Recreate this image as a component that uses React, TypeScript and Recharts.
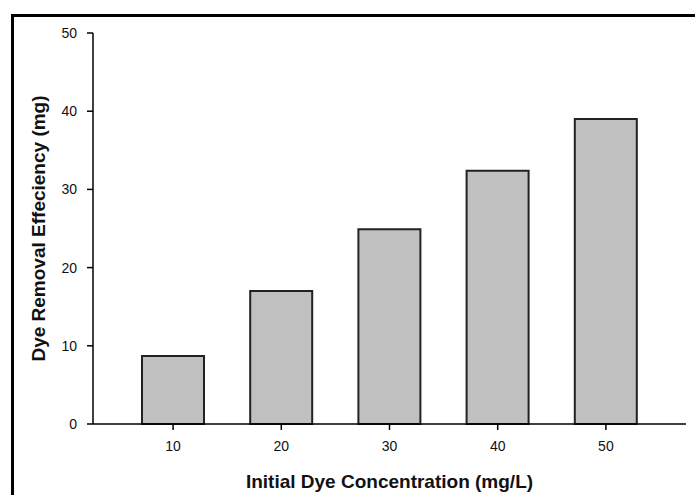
import { Bar, BarChart, XAxis, YAxis, Label } from "recharts";

const concentrations = ["10", "20", "30", "40", "50"];
const removal = [8.7, 17.0, 24.9, 32.4, 39.0];
const yTicks = [0, 10, 20, 30, 40, 50];

const data = concentrations.map((c, i) => ({ conc: c, removal: removal[i] }));

const FONT = '"Liberation Sans", Arial, sans-serif';

/** Rotated y-axis title centred on the plot height. */
function YTitle(props: { viewBox?: { x?: number; y?: number; width?: number; height?: number } }) {
  const { y = 0, height = 0 } = props.viewBox ?? {};
  const cx = 38;
  const cy = y + height / 2;
  return (
    <text
      x={cx}
      y={cy}
      transform={`rotate(-90, ${cx}, ${cy})`}
      textAnchor="middle"
      dominantBaseline="central"
      fontFamily={FONT}
      fontSize={19}
      fontWeight={700}
      fill="#111"
    >
      Dye Removal Effeciency (mg)
    </text>
  );
}

export default function App() {
  return (
    <div
      style={{
        position: "absolute",
        left: 0,
        top: 0,
        width: 695,
        height: 495,
        overflow: "hidden",
        background: "#fff",
      }}
    >
      {/* outer figure frame, only its top and left edges fall inside the picture */}
      <div
        style={{
          position: "absolute",
          left: 11,
          top: 14,
          width: 720,
          height: 520,
          border: "3px solid #000",
        }}
      />
      <div style={{ position: "absolute", left: 0, top: 0 }}>
        <BarChart
          width={695}
          height={495}
          data={data}
          margin={{ top: 33, right: 9, left: 0, bottom: 0 }}
        >
          <XAxis
            dataKey="conc"
            height={71}
            padding={{ left: 26, right: 26 }}
            tickSize={6}
            tickMargin={11}
            tick={{ fontFamily: FONT, fontSize: 14, fill: "#111" }}
            axisLine={{ stroke: "#000", strokeWidth: 1.5 }}
            tickLine={{ stroke: "#000", strokeWidth: 1.5 }}
          >
            <Label
              value="Initial Dye Concentration (mg/L)"
              position="insideBottom"
              offset={7}
              style={{
                fontFamily: FONT,
                fontSize: 19,
                fontWeight: 700,
                fill: "#111",
              }}
            />
          </XAxis>
          <XAxis
            xAxisId="top"
            dataKey="conc"
            orientation="top"
            height={0}
            tick={false}
            tickLine={false}
            axisLine={{ stroke: "#000", strokeWidth: 1.5 }}
          />
          <YAxis
            domain={[0, 50]}
            ticks={yTicks}
            width={93}
            tickSize={6}
            tickMargin={10}
            tick={{ fontFamily: FONT, fontSize: 14, fill: "#111" }}
            axisLine={{ stroke: "#000", strokeWidth: 1.5 }}
            tickLine={{ stroke: "#000", strokeWidth: 1.5 }}
          >
            <Label content={<YTitle />} />
          </YAxis>
          <YAxis
            yAxisId="right"
            orientation="right"
            width={0}
            tick={false}
            tickLine={false}
            axisLine={{ stroke: "#000", strokeWidth: 1.5 }}
          />
          <Bar
            dataKey="removal"
            barSize={62}
            fill="#c0c0c0"
            stroke="#222"
            strokeWidth={2}
            isAnimationActive={false}
          />
        </BarChart>
      </div>
    </div>
  );
}
